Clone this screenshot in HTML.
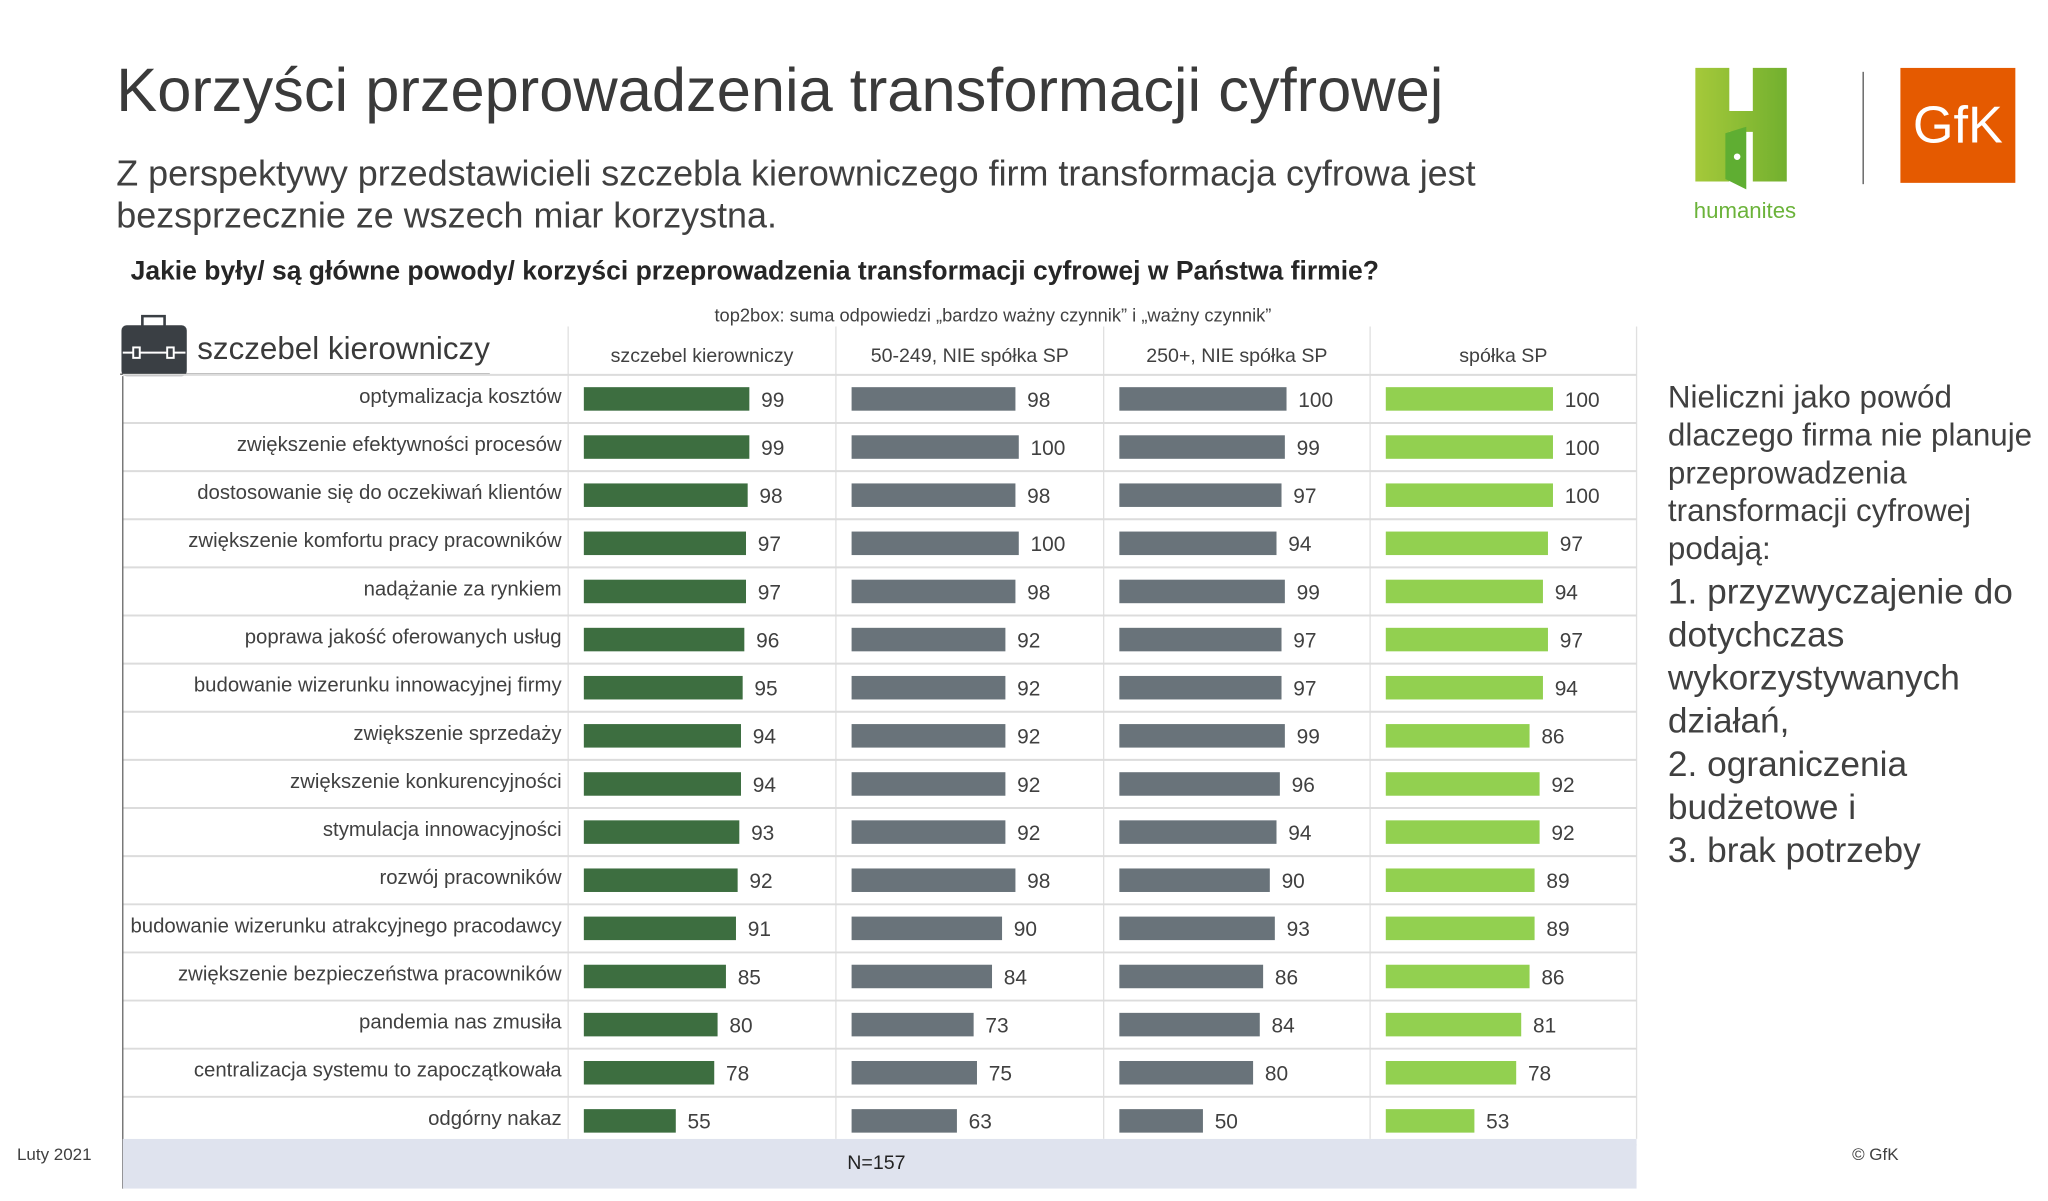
<!DOCTYPE html>
<html><head><meta charset="utf-8">
<style>
html,body{margin:0;padding:0;background:#fff;}
body{width:2048px;height:1201px;overflow:hidden;position:relative;font-family:"Liberation Sans",sans-serif;}
#stage{position:absolute;left:0;top:0;width:1568px;height:919px;transform:scale(1.30612);transform-origin:0 0;color:#404040;}
.abs{position:absolute;white-space:nowrap;}
</style></head><body>
<div id="stage">
<div class="abs" style="left:89px;top:41px;font-size:47px;color:#3a3a3a;">Korzyści przeprowadzenia transformacji cyfrowej</div>
<div class="abs" style="left:89px;top:117px;font-size:27.5px;line-height:32px;color:#404040;">Z perspektywy przedstawicieli szczebla kierowniczego firm transformacja cyfrowa jest<br>bezsprzecznie ze wszech miar korzystna.</div>
<div class="abs" style="left:100px;top:197px;font-size:20.3px;font-weight:bold;color:#262626;">Jakie były/ są główne powody/ korzyści przeprowadzenia transformacji cyfrowej w Państwa firmie?</div>
<div class="abs" style="left:547px;top:233px;font-size:14px;color:#404040;">top2box: suma odpowiedzi „bardzo ważny czynnik” i „ważny czynnik”</div>

<svg class="abs" style="left:92px;top:241px" width="52" height="48" viewBox="0 0 52 48">
<rect x="17" y="1" width="17" height="9" fill="none" stroke="#3a3f44" stroke-width="2"/>
<rect x="1" y="8" width="50" height="39" rx="4" fill="#3a3f44"/>
<line x1="2" y1="29" x2="50" y2="29" stroke="#fff" stroke-width="1.5"/>
<rect x="10" y="25" width="5" height="8" fill="#3a3f44" stroke="#fff" stroke-width="1.5"/>
<rect x="36" y="25" width="5" height="8" fill="#3a3f44" stroke="#fff" stroke-width="1.5"/>
</svg>
<div class="abs" style="left:151px;top:254px;font-size:24px;color:#3a3a3a;">szczebel kierowniczy</div>
<div class="abs" style="left:92px;top:286px;width:283px;height:1px;background:#555;"></div>

<svg id="chart" class="abs" style="left:0;top:0" width="1568" height="919"></svg>

<div class="abs" style="left:1277px;top:290px;font-size:24px;line-height:29px;color:#404040;white-space:normal;width:290px;">Nieliczni jako powód dlaczego firma nie planuje przeprowadzenia transformacji cyfrowej podają:<div style="font-size:27px;line-height:33px;margin-top:2px;">1. przyzwyczajenie do dotychczas wykorzystywanych działań,<br>2. ograniczenia budżetowe i<br>3. brak potrzeby</div></div>

<div class="abs" style="left:13px;top:876px;font-size:13px;color:#404040;">Luty 2021</div>
<div class="abs" style="left:1418px;top:876px;font-size:13px;color:#404040;">© GfK</div>

<svg class="abs" style="left:1290px;top:50px" width="92" height="122" viewBox="0 0 92 122">
<defs><linearGradient id="hg" x1="0" x2="1"><stop offset="0" stop-color="#a5c93a"/><stop offset="1" stop-color="#72b02f"/></linearGradient></defs>
<path d="M8 2h26v33h18V2h26v87H52V51H34v38H8z" fill="url(#hg)"/>
<path d="M31 52l16-5v48l-16-8z" fill="#5fae32"/>
<circle cx="40" cy="70" r="2.5" fill="#fff"/>
<text x="46" y="117" font-size="17" fill="#6bb33a" text-anchor="middle" font-family="Liberation Sans, sans-serif">humanites</text>
</svg>
<div class="abs" style="left:1426px;top:55px;width:1px;height:86px;background:#555;"></div>
<div class="abs" style="left:1455px;top:52px;width:88px;height:88px;background:#e55a00;color:#fff;font-size:40px;line-height:88px;text-align:center;">GfK</div>
</div>

<script>
var categories=["optymalizacja kosztów","zwiększenie efektywności procesów","dostosowanie się do oczekiwań klientów","zwiększenie komfortu pracy pracowników","nadążanie za rynkiem","poprawa jakość oferowanych usług","budowanie wizerunku innowacyjnej firmy","zwiększenie sprzedaży","zwiększenie konkurencyjności","stymulacja innowacyjności","rozwój pracowników","budowanie wizerunku atrakcyjnego pracodawcy","zwiększenie bezpieczeństwa pracowników","pandemia nas zmusiła","centralizacja systemu to zapoczątkowała","odgórny nakaz"];
var seriesNames=["szczebel kierowniczy","50-249, NIE spółka SP","250+, NIE spółka SP","spółka SP"];
var kierowniczy=[99,99,98,97,97,96,95,94,94,93,92,91,85,80,78,55];
var nieSp50=[98,100,98,100,98,92,92,92,92,92,98,90,84,73,75,63];
var nieSp250=[100,99,97,94,99,97,97,99,96,94,90,93,86,84,80,50];
var spolkaSp=[100,100,100,97,94,97,94,86,92,92,89,89,86,81,78,53];
var seriesValues=[kierowniczy,nieSp50,nieSp250,spolkaSp];
var colors=["#3d6e40","#69737a","#69737a","#92d050"];

var NS="http://www.w3.org/2000/svg";
var svg=document.getElementById('chart');
var colX=[435,640,845,1049,1253];
var rowTop=287, rowH=36.85, barH=18, pxPerUnit=1.28;
function rowY(i){return rowTop+i*rowH;}
function xScale(c,v){return colX[c]+12+v*pxPerUnit;}
function mk(t,a){var e=document.createElementNS(NS,t);for(var k in a)e.setAttribute(k,a[k]);svg.appendChild(e);return e;}

for(var c=0;c<5;c++){var l=mk('line',{x1:colX[c],y1:250,x2:colX[c],y2:872,stroke:'#e0e0e0','stroke-width':1});

}
for(var i=0;i<=categories.length;i++){var y=rowY(i);var g=mk('line',{x1:94,y1:y,x2:1253,y2:y,stroke:'#dcdcdc','stroke-width':1.5});

}
var ax=mk('line',{x1:94,y1:288,x2:94,y2:910,stroke:'#666','stroke-width':1});



for(var c=0;c<4;c++){var h=mk('text',{x:(colX[c]+colX[c+1])/2,y:277,'font-size':15,fill:'#404040','text-anchor':'middle','font-family':'Liberation Sans, sans-serif'});
h.textContent=seriesNames[c];

}

for(var i=0;i<categories.length;i++){
 var cy=rowY(i)+rowH/2;
 var t=mk('text',{x:430,y:cy+3,'font-size':15.6,fill:'#404040','text-anchor':'end','font-family':'Liberation Sans, sans-serif'});
 t.textContent=categories[i];
 
 
 for(var c=0;c<4;c++){
  var v=seriesValues[c][i];
  var x0=xScale(c,0),x1=xScale(c,v);
  var b=mk('rect',{x:x0,y:cy-barH/2,width:x1-x0,height:barH,fill:colors[c]});
  
  
  var vt=mk('text',{x:x1+9,y:cy+6,'font-size':16,fill:'#404040','font-family':'Liberation Sans, sans-serif'});
  vt.textContent=v;
  
  
 }
}
var band=mk('rect',{x:94,y:872,width:1159,height:38,fill:'#dfe3ee'});


var n=mk('text',{x:671,y:895,'font-size':15,fill:'#222','text-anchor':'middle','font-family':'Liberation Sans, sans-serif'});
n.textContent="N=157";


</script>
</body></html>
